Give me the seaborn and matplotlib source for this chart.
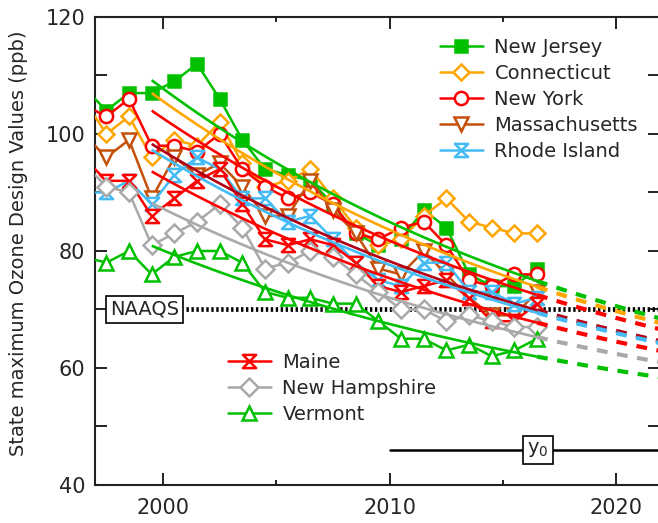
import numpy as np
import pandas as pd
import matplotlib
matplotlib.use("Agg")
import matplotlib.pyplot as plt
from matplotlib.path import Path
from matplotlib.lines import Line2D
import seaborn as sns

# ---------------- data ----------------
years = [1996.5, 1997.5, 1998.5, 1999.5, 2000.5, 2001.5, 2002.5, 2003.5, 2004.5,
         2005.5, 2006.5, 2007.5, 2008.5, 2009.5, 2010.5, 2011.5, 2012.5, 2013.5,
         2014.5, 2015.5, 2016.5]

new_jersey    = [108, 104, 107, 107, 109, 112, 106, 99, 94, 93, 92, 88, 83, 81, 82, 87, 84, 76, 74, 74, 77]
connecticut   = [106, 100, 103, 96, 99, 98, 102, 95, 91, 92, 94, 89, 84, 81, 82, 86, 89, 85, 84, 83, 83]
new_york      = [105, 103, 106, 98, 98, 97, 100, 94, 91, 89, 90, 88, 83, 82, 84, 85, 81, 75, 74, 76, 76]
massachusetts = [100, 96, 99, 89, 96, 93, 95, 91, 86, 86, 92, 87, 83, 77, 76, 80, 76, 72, 69, 69, 73]
rhode_island  = [90, 90, 92, 88, 93, 96, 94, 89, 89, 85, 86, 82, 78, 75, 74, 78, 78, 73, 73, 71, 72]
maine         = [96, 92, 92, 86, 89, 92, 94, 88, 82, 81, 82, 81, 78, 74, 73, 74, 75, 72, 68, 68, 71]
new_hampshire = [95, 91, 90, 81, 83, 85, 88, 84, 77, 78, 80, 79, 76, 73, 70, 70, 68, 69, 68, 67, 67]
vermont       = [79, 78, 80, 76, 79, 80, 80, 78, 73, 72, 72, 71, 71, 68, 65, 65, 63, 64, 62, 63, 65]

states = ["New Jersey", "Connecticut", "New York", "Massachusetts", "Rhode Island",
          "Maine", "New Hampshire", "Vermont"]
values = [new_jersey, connecticut, new_york, massachusetts, rhode_island,
          maine, new_hampshire, vermont]

# exponential-decay model curves:
# value = y0 + (start - y0) * exp(-(t - fit_t0) / fit_tau)
fit_start = [109.2, 107.0, 104.0, 98.3, 97.3, 93.6, 88.2, 80.9]
fit_t0 = 1999.5
fit_t_end_solid = 2016.5
fit_t_end = 2022.0
fit_tau = 21.7
y0_value = 46
naaqs_value = 70

# ---------------- style ----------------
sns.set_style("ticks")
plt.rcParams["font.family"] = ["DejaVu Sans"]
plt.rcParams["mathtext.fontset"] = "dejavusans"

hourglass = Path([(-1, 1), (1, 1), (-1, -1), (1, -1), (-1, 1)],
                 [Path.MOVETO, Path.LINETO, Path.LINETO, Path.LINETO, Path.CLOSEPOLY])

green = "#00C000"
orange = "#FFA500"
red = "#FF0000"
brown = "#C5500A"
darkred = "#B00018"
blue = "#45BBF5"
gray = "#A9A9A9"

line_colors = [green, orange, red, brown, blue, red, gray, green]
fit_colors = [green, orange, red, darkred, blue, red, gray, green]
markers = ["s", "D", "o", "v", hourglass, hourglass, "D", "^"]
msizes = [9, 8.5, 9.5, 10.5, 9.5, 9.5, 9, 10.5]
mfcs = [green, "white", "white", "white", "white", "white", "white", "white"]

W, H = 658, 523
fig = plt.figure(figsize=(W / 100, H / 100), dpi=100)
ax_left, ax_right, ax_top, ax_bot = 95, 660, 17, 485
ax = fig.add_axes([ax_left / W, (H - ax_bot) / H, (ax_right - ax_left) / W, (ax_bot - ax_top) / H])

xmin, xmax = 1997.0, 1997.0 + (ax_right - ax_left) / 22.67
ax.set_xlim(xmin, xmax)
ax.set_ylim(40, 120)

df = pd.DataFrame({"year": years})
for name, vals in zip(states, values):
    df[name] = vals

handles = []
for i, name in enumerate(states):
    sns.lineplot(data=df, x="year", y=name, ax=ax, color=line_colors[i], lw=1.8,
                 marker=markers[i], markersize=msizes[i], markerfacecolor=mfcs[i],
                 markeredgecolor=line_colors[i], markeredgewidth=1.8, clip_on=True,
                 zorder=3, legend=False)
    handles.append(Line2D([], [], color=line_colors[i], lw=1.8, marker=markers[i],
                          markersize=msizes[i], markerfacecolor=mfcs[i],
                          markeredgecolor=line_colors[i], markeredgewidth=1.8))

# model curves
t_solid = np.linspace(fit_t0, fit_t_end_solid, 100)
t_dash = np.linspace(fit_t_end_solid, fit_t_end, 60)
for i, s in enumerate(fit_start):
    amp = s - y0_value
    ax.plot(t_solid, y0_value + amp * np.exp(-(t_solid - fit_t0) / fit_tau),
            color=fit_colors[i], lw=1.9, zorder=4, solid_capstyle="butt")
    ax.plot(t_dash, y0_value + amp * np.exp(-(t_dash - fit_t0) / fit_tau),
            color=fit_colors[i], lw=3.0, zorder=4, dashes=(2.6, 2.3), dash_capstyle="butt")

# NAAQS line and label
ax.axhline(naaqs_value, xmin=(186 - ax_left) / (ax_right - ax_left), xmax=1,
           color="black", lw=3.4, dashes=(0.5, 0.55), dash_capstyle="butt", zorder=2)
ax.text(1999.18, naaqs_value, "NAAQS", fontsize=14, ha="center", va="center",
        bbox=dict(boxstyle="square,pad=0.22", fc="white", ec="black", lw=1.2), zorder=5)

# y0 line and label
ax.axhline(y0_value, xmin=(390 - ax_left) / (ax_right - ax_left), xmax=1,
           color="black", lw=1.8, zorder=2)
ax.text(2016.53, y0_value, r"$\mathregular{y_0}$", fontsize=14, ha="center", va="center",
        bbox=dict(boxstyle="square,pad=0.22", fc="white", ec="black", lw=1.2), zorder=5)

# axes styling
ax.set_xticks([2000, 2010, 2020])
ax.set_xticks([2005, 2015], minor=True)
ax.set_yticks(np.arange(40, 121, 10))
ax.set_yticklabels(["40", "", "60", "", "80", "", "100", "", "120"])
ax.tick_params(axis="both", which="major", direction="in", length=8.5, width=1.4,
               top=True, right=True, labelsize=15, color="#222222")
ax.tick_params(axis="x", which="major", pad=9)
ax.tick_params(axis="y", which="major", pad=7)
ax.tick_params(axis="x", which="minor", direction="in", length=3.8, width=1.4,
               top=True, bottom=True, color="#222222")
for sp in ax.spines.values():
    sp.set_linewidth(1.5)
    sp.set_color("#222222")

ax.set_xlabel("")
ax.set_ylabel("State maximum Ozone Design Values (ppb)", fontsize=14)
ax.yaxis.set_label_coords((28 - ax_left) / (ax_right - ax_left), (ax_bot - 243) / (ax_bot - ax_top))

leg_kw = dict(frameon=False, fontsize=14, handlelength=2.2, handletextpad=0.6,
              labelspacing=0.36, borderpad=0, borderaxespad=0,
              bbox_transform=fig.transFigure, loc="upper left")
leg1 = ax.legend(handles[:5], states[:5], bbox_to_anchor=(440 / W, 1 - 38 / H), **leg_kw)
ax.add_artist(leg1)
ax.legend(handles[5:], states[5:], bbox_to_anchor=(228 / W, 1 - 353 / H), **leg_kw)

fig.savefig("out.png", dpi=100)
